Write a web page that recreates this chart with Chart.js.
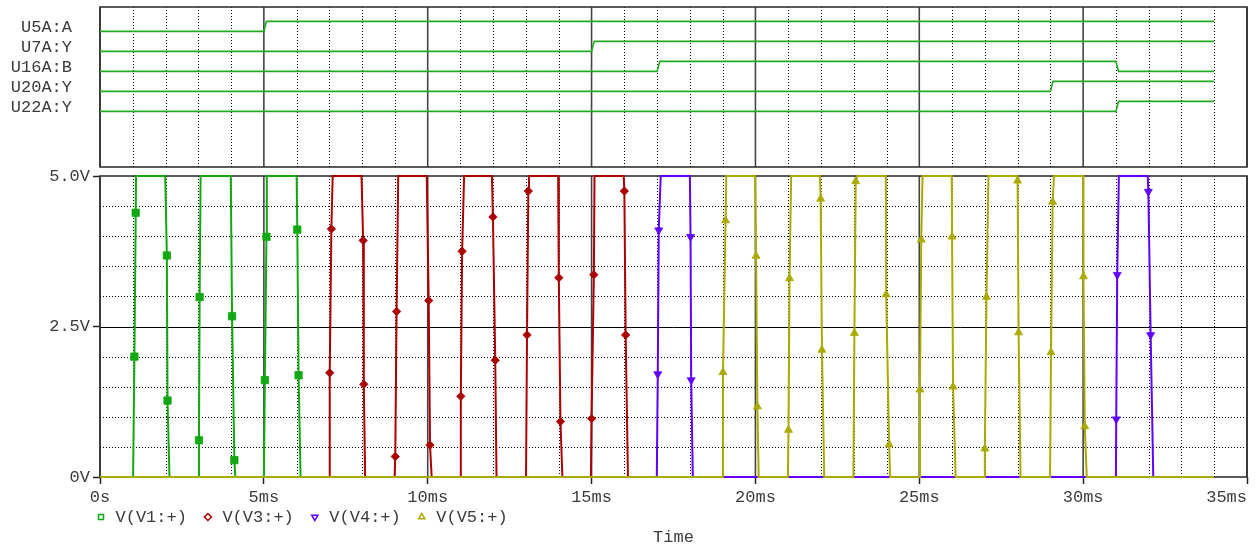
<!DOCTYPE html>
<html>
<head>
<meta charset="utf-8">
<script src="https://cdn.jsdelivr.net/npm/chart.js@4.4.1/dist/chart.umd.min.js"></script>
<style>
  html, body { margin: 0; padding: 0; background: #fff; }
  #wrap { position: relative; width: 1257px; height: 546px; overflow: hidden; }
  #wrap canvas { position: absolute; left: 0; }
  #analog { top: 0; }
  #digital { top: -40px; }
</style>
</head>
<body>
<div id="wrap">
  <canvas id="analog" width="1257" height="546"></canvas>
  <canvas id="digital" width="1257" height="546"></canvas>
</div>
<script>
// ---------- axes ----------
const timeTicks  = [0, 5, 10, 15, 20, 25, 30, 35];            // ms
const timeLabels = ['0s', '5ms', '10ms', '15ms', '20ms', '25ms', '30ms', '35ms'];
const voltTicks  = [0, 2.5, 5];
const voltLabels = ['0V', '2.5V', '5.0V'];

// ---------- digital probes (time in ms, logic level) ----------
const digitalNames = ['U5A:A', 'U7A:Y', 'U16A:B', 'U20A:Y', 'U22A:Y'];
const u5aTimes  = [0, 5.00, 5.08, 34];
const u5aLevels = [0, 0, 1, 1];
const u7aTimes  = [0, 15.00, 15.08, 34];
const u7aLevels = [0, 0, 1, 1];
const u16aTimes  = [0, 17.00, 17.08, 31.00, 31.08, 34];
const u16aLevels = [0, 0, 1, 1, 0, 0];
const u20aTimes  = [0, 29.00, 29.08, 34];
const u20aLevels = [0, 0, 1, 1];
const u22aTimes  = [0, 31.00, 31.08, 34];
const u22aLevels = [0, 0, 1, 1];

// ---------- analog sources: edge vertices (ms, V) ----------
const v1EdgeT = [0, 1.01, 1.10, 1.99, 2.12, 3.00, 3.07, 3.99, 4.13, 5.00, 5.09, 6.00, 6.12, 34];
const v1EdgeV = [0, 0, 5, 5, 0, 0, 5, 5, 0, 0, 5, 5, 0, 0];
const v1MarkT = [1.05, 1.09, 2.04, 2.06, 3.02, 3.04, 4.03, 4.10, 5.03, 5.08, 6.02, 6.06];
const v1MarkV = [2.00, 4.39, 3.68, 1.27, 0.61, 2.99, 2.67, 0.28, 1.61, 3.99, 4.11, 1.69];

const v3EdgeT = [0, 6.99, 7.10, 7.98, 8.09, 8.99, 9.10, 9.97, 10.12, 10.99, 11.11, 11.96, 12.10,
                 13.00, 13.09, 13.98, 14.11, 14.98, 15.09, 15.98, 16.11, 34];
const v3EdgeV = [0, 0, 5, 5, 0, 0, 5, 5, 0, 0, 5, 5, 0, 0, 5, 5, 0, 0, 5, 5, 0, 0];
const v3MarkT = [7.01, 7.06, 8.03, 8.05, 9.01, 9.05, 10.03, 10.07, 11.01, 11.05, 11.99, 12.06,
                 13.03, 13.07, 14.00, 14.05, 15.00, 15.07, 16.00, 16.04];
const v3MarkV = [1.73, 4.12, 3.93, 1.54, 0.34, 2.75, 2.93, 0.53, 1.34, 3.75, 4.32, 1.94,
                 2.36, 4.75, 3.31, 0.92, 0.97, 3.36, 4.75, 2.36];

const v4EdgeT = [0, 16.99, 17.11, 18.00, 18.09, 31.00, 31.09, 31.97, 32.14, 34];
const v4EdgeV = [0, 0, 5, 5, 0, 0, 5, 5, 0, 0];
const v4MarkT = [17.02, 17.05, 18.02, 18.04, 31.01, 31.04, 31.99, 32.06];
const v4MarkV = [1.71, 4.10, 3.99, 1.61, 0.96, 3.36, 4.74, 2.36];

const v5EdgeT = [0, 18.99, 19.11, 19.99, 20.10, 20.99, 21.09, 21.97, 22.10, 22.99, 23.11, 23.98, 24.11,
                 25.00, 25.10, 25.99, 26.11, 26.98, 27.11, 27.99, 28.09, 28.99, 29.11, 30.00, 30.11, 34];
const v5EdgeV = [0, 0, 5, 5, 0, 0, 5, 5, 0, 0, 5, 5, 0, 0, 5, 5, 0, 0, 5, 5, 0, 0, 5, 5, 0, 0];
const v5MarkT = [19.01, 19.09, 20.02, 20.06, 21.01, 21.04, 21.99, 22.03, 23.02, 23.06, 23.99, 24.08,
                 25.02, 25.06, 26.00, 26.03, 27.00, 27.05, 28.00, 28.03, 29.02, 29.07, 30.01, 30.05];
const v5MarkV = [1.74, 4.26, 3.67, 1.17, 0.78, 3.30, 4.62, 2.11, 2.39, 4.91, 3.03, 0.54,
                 1.45, 3.94, 3.99, 1.50, 0.47, 2.99, 4.92, 2.40, 2.07, 4.57, 3.33, 0.84];

// ---------- styling ----------
const MONO = "'Liberation Mono', 'Courier New', monospace";
const TEXT = '#3c3c3c';
const C_V1 = '#13a813';
const C_V3 = '#aa0000';
const C_V4 = '#6000ff';
const C_V5 = '#aaaa00';
const C_DIG = '#22aa22';

// merge edge vertices and marker points into one time-ordered trace
function trace(edgeT, edgeV, markT, markV) {
  const pts = edgeT.map((t, i) => ({ x: t, y: edgeV[i], m: false }));
  markT.forEach((t, i) => pts.push({ x: t, y: markV[i], m: true }));
  return pts.sort((a, b) => a.x - b.x);
}

// logic level -> position inside its row band
function digital(times, levels, row) {
  const centre = 7 - row;
  return times.map((t, i) => ({ x: t, y: centre + (levels[i] ? 0.28 : -0.22) }));
}

// grid lines (dotted minors, solid majors) and plot frame
const frameGrid = {
  id: 'frameGrid',
  beforeDatasetsDraw(chart, args, o) {
    const { ctx, chartArea: a, scales: { x, y } } = chart;
    const line = (x1, y1, x2, y2) => { ctx.beginPath(); ctx.moveTo(x1, y1); ctx.lineTo(x2, y2); ctx.stroke(); };
    ctx.save();
    ctx.strokeStyle = '#000';
    ctx.lineWidth = 1;
    ctx.setLineDash([1, 2]);
    (o.minorX || []).forEach(v => { const p = Math.round(x.getPixelForValue(v)) + 0.5; line(p, a.top, p, a.bottom); });
    (o.minorY || []).forEach(v => { const p = Math.round(y.getPixelForValue(v)) + 0.5; line(a.left, p, a.right, p); });
    ctx.setLineDash([]);
    ctx.strokeStyle = '#000';
    ctx.lineWidth = 1;
    (o.majorY || []).forEach(v => { const p = Math.round(y.getPixelForValue(v)) + 0.5; line(a.left, p, a.right, p); });
    ctx.strokeStyle = '#444';
    ctx.lineWidth = 1.6;
    (o.majorX || []).forEach(v => { const p = x.getPixelForValue(v); line(p, a.top, p, a.bottom); });
    ctx.strokeStyle = '#333';
    ctx.lineWidth = 1.6;
    ctx.strokeRect(a.left, a.top, a.right - a.left, a.bottom - a.top);
    ctx.restore();
  }
};

const minorTimes = [];
for (let t = 1; t < 35; t++) if (t % 5 !== 0) minorTimes.push(t);
const minorVolts = [];
for (let v = 0.5; v < 5; v += 0.5) if (Math.abs(v - 2.5) > 1e-6) minorVolts.push(+v.toFixed(1));

// ---------- analog chart ----------
const analogSets = [
  { label: 'V(V1:+)', color: C_V1, data: trace(v1EdgeT, v1EdgeV, v1MarkT, v1MarkV), style: 'rect', rot: 0, r: 5.2, order: 4 },
  { label: 'V(V3:+)', color: C_V3, data: trace(v3EdgeT, v3EdgeV, v3MarkT, v3MarkV), style: 'rectRot', rot: 0, r: 4.2, order: 3 },
  { label: 'V(V4:+)', color: C_V4, data: trace(v4EdgeT, v4EdgeV, v4MarkT, v4MarkV), style: 'triangle', rot: 180, r: 4.6, order: 2 },
  { label: 'V(V5:+)', color: C_V5, data: trace(v5EdgeT, v5EdgeV, v5MarkT, v5MarkV), style: 'triangle', rot: 0, r: 4.6, order: 1 }
];

// places the legend row under the axis labels, left-aligned with the plot
const legendPlacement = {
  id: 'legendPlacement',
  afterLayout(chart) {
    const lg = chart.legend;
    if (lg) {
      const w = lg.right - lg.left;
      lg.left = 80; lg.right = 80 + w;
      lg.top -= 14.5; lg.bottom = lg.top + 40;
    }
    const items = chart.scales.x.getLabelItems(chart.chartArea);
    if (items.length) items[0].options.textAlign = 'center';
  }
};

new Chart(document.getElementById('analog'), {
  type: 'line',
  data: {
    datasets: analogSets.map(s => ({
      label: s.label,
      data: s.data,
      order: s.order,
      borderColor: s.color,
      backgroundColor: s.color,
      borderWidth: 2,
      tension: 0,
      fill: false,
      borderJoinStyle: 'miter',
      pointStyle: s.style,
      pointRotation: s.rot,
      pointBackgroundColor: s.color,
      pointBorderColor: s.color,
      pointBorderWidth: 0.8,
      pointRadius: c => (c.raw && c.raw.m ? s.r : 0),
      pointHoverRadius: c => (c.raw && c.raw.m ? s.r : 0),
      clip: 4
    }))
  },
  options: {
    responsive: false,
    devicePixelRatio: 1,
    animation: false,
    events: [],
    layout: { padding: { left: 0, top: 176, right: 10, bottom: 0 } },
    scales: {
      x: {
        type: 'linear', min: 0, max: 35,
        afterBuildTicks: s => { s.ticks = timeTicks.map(v => ({ value: v })); },
        afterFit: s => { s.height = 31; },
        ticks: {
          callback: (v, i) => timeLabels[i],
          align: 'inner', padding: 3, autoSkip: false, maxRotation: 0, minRotation: 0,
          font: { family: MONO, size: 17 }, color: TEXT
        },
        grid: { drawOnChartArea: false, drawTicks: true, tickLength: 7, tickColor: '#222', tickWidth: 1.5 },
        border: { display: false }
      },
      y: {
        type: 'linear', min: 0, max: 5,
        afterBuildTicks: s => { s.ticks = voltTicks.map(v => ({ value: v })); },
        afterFit: s => { s.width = 100; },
        ticks: { callback: (v, i) => voltLabels[i], padding: 3, font: { family: MONO, size: 17 }, color: TEXT },
        grid: { drawOnChartArea: false, drawTicks: true, tickLength: 7, tickColor: '#222', tickWidth: 1.5 },
        border: { display: false }
      }
    },
    plugins: {
      frameGrid: { minorX: minorTimes, minorY: minorVolts, majorX: timeTicks, majorY: [2.5] },
      legend: {
        display: true, position: 'bottom', align: 'start', maxHeight: 16,
        labels: {
          usePointStyle: true, boxWidth: 12, boxHeight: 5, padding: 15,
          font: { family: MONO, size: 17 }, color: TEXT,
          generateLabels: chart => chart.data.datasets.map((d, i) => ({
            text: d.label, fillStyle: '#fff', strokeStyle: d.borderColor, lineWidth: 1.5,
            pointStyle: d.pointStyle, rotation: d.pointRotation, datasetIndex: i, hidden: false, fontColor: TEXT
          }))
        }
      },
      title: {
        display: true, text: 'Time', position: 'bottom', fullSize: false, align: 'center',
        font: { family: MONO, size: 17, weight: 'normal', lineHeight: 1 }, color: TEXT,
        padding: { top: 4.5, bottom: 0.5 }
      },
      tooltip: { enabled: false }
    }
  },
  plugins: [frameGrid, legendPlacement]
});

// ---------- digital chart ----------
const digitalSignals = [
  [u5aTimes, u5aLevels], [u7aTimes, u7aLevels], [u16aTimes, u16aLevels], [u20aTimes, u20aLevels], [u22aTimes, u22aLevels]
];

new Chart(document.getElementById('digital'), {
  type: 'line',
  data: {
    datasets: digitalSignals.map((sig, row) => ({
      label: digitalNames[row],
      data: digital(sig[0], sig[1], row),
      borderColor: C_DIG,
      borderWidth: 1.6,
      tension: 0,
      pointRadius: 0,
      fill: false
    }))
  },
  options: {
    responsive: false,
    devicePixelRatio: 1,
    animation: false,
    events: [],
    layout: { padding: { left: 0, top: 47, right: 10, bottom: 339 } },
    scales: {
      x: { type: 'linear', min: 0, max: 35, display: false },
      y: {
        type: 'linear', min: 0, max: 8,
        afterBuildTicks: s => { s.ticks = digitalNames.map((n, i) => ({ value: 7 - i })); },
        afterFit: s => { s.width = 100; },
        ticks: { callback: (v, i) => digitalNames[i], padding: 28, font: { family: MONO, size: 17 }, color: TEXT },
        grid: { display: false, drawTicks: false },
        border: { display: false }
      }
    },
    plugins: {
      frameGrid: { minorX: minorTimes, majorX: timeTicks },
      legend: { display: false },
      title: { display: false },
      tooltip: { enabled: false }
    }
  },
  plugins: [frameGrid]
});
</script>
</body>
</html>
